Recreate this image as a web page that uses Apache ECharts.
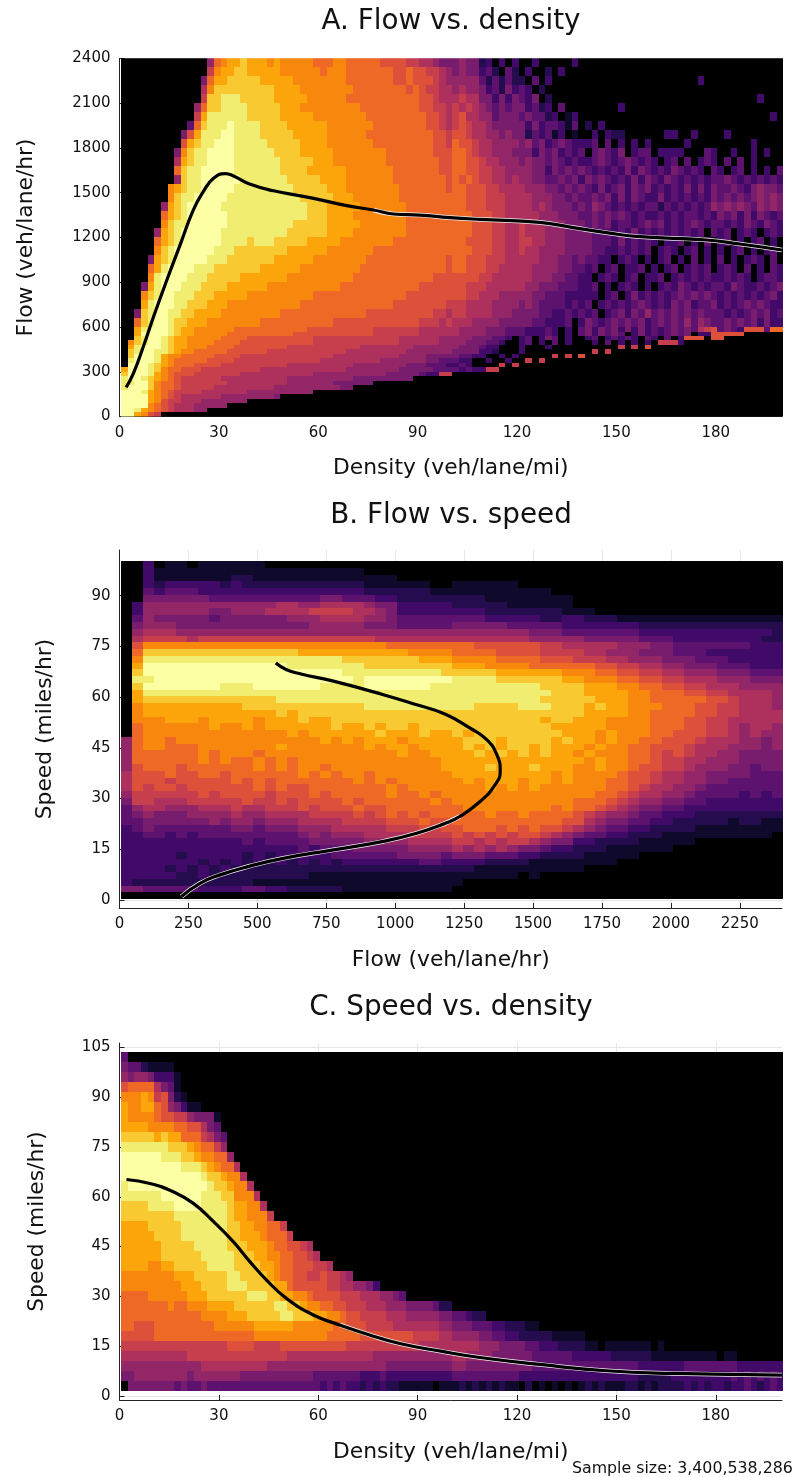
<!DOCTYPE html>
<html>
<head>
<meta charset="utf-8">
<script src="https://cdn.jsdelivr.net/npm/echarts@6/dist/echarts.min.js"></script>
<style>html,body{margin:0;padding:0;background:#fff}#c{width:796px;height:1477px}#c canvas{filter:blur(.45px)}</style>
</head>
<body>
<div id="c"></div>
<script>
const inferno = ['#000000','#0f0a2c','#250c4f','#420a68','#5c126e','#781c6d','#932667','#ae305c','#c73e4c','#dd513a','#ed6925','#f8870e','#fca50a','#f9c932','#f1ed71','#fcffa4'];

const densityTicks = [0,30,60,90,120,150,180];
const flowTicksA = [0,300,600,900,1200,1500,1800,2100,2400];
const flowTicksB = [0,250,500,750,1000,1250,1500,1750,2000,2250];
const speedTicksB = [0,15,30,45,60,75,90];
const speedTicksC = [0,15,30,45,60,75,90,105];

// A upper: rows top (flow 2400) down to flow 600, 60 flow per row, 2 density per column
const flowDensityRows = [
"0000000000 0006abccdc ccbcbbbbba aabbaaaaa9 9998877655 5655230303 0030000030 0000000000 0000000000 0000000000",
"0000000000 0008bccddc ccccbbbbbb abbbaaaaaa a99a998876 5655342042 0300203000 0000000000 0000000000 0000000000",
"0000000000 005accdddd dcccccbbbb bbbbaaaaaa a99a999876 6666424242 2040300000 0000000000 0000000300 0000000000",
"0000000000 007bdddddd dddccccbbb bbbbbaaaaa aaa9a98877 6766534253 4302000000 0000000000 0000000000 0000000000",
"0000000000 008ddeeedd dddcccccbb bbbbaaaaaa aaaaa99877 7877553535 4350200000 0000000000 0000000000 0000003000",
"0000000000 06addeeeed ddddcccbbb bbbbbbaaaa aaaaa99887 8787654545 5342304000 0000030000 0000000000 0000000000",
"0000000000 08ceeeeeed ddddcccccb bbbbbbbaaa aaaaaa9987 8977664555 4544230130 0000000000 0000000000 0000000030",
"0000000000 4adeeefeee eddddccccc cbbbbbbbaa aaaaaa9987 8987765555 5353443140 2030000000 0000000000 0000000000",
"0000000005 9ceeeffeee edddddcccc cbbbbbbaaa aaaaaaa998 9987766565 5243413010 0303220000 0033003000 0300000000",
"0000000009 cdeefffeee eedddddccc cbbbbbbbaa aaaaaaa998 a998776666 5645345433 3404030303 0000030000 0000030000",
"000000005b deeffffeee eeeddddccc ccbbbbbbbb aaaaaaa999 aa98776665 5535453434 0454350344 0333300043 0030030300",
"000000007c deeffffeee eeeedddddc ccbbbbbbbb aaaaaaaa99 aa99877666 5655454343 3454345434 3034040343 0404030000",
"00000000ad eefffffeee eeeeddddcc ccccbbbbbb baaaaaaa99 aa99887766 6655354545 4343435354 3435434304 3034030304",
"000000006d eeffffffee eeeeeddddd ccccbbbbbb baaaaaaaa9 a9a9887767 6655445453 5454343535 4354343434 4543434343",
"0000000bcd eefffffeee eeeeeedddd dcccbbbbbb bbaaaaaaa9 aa99988777 7666554545 4353453545 3434353535 4454356554",
"0000000bde efffffeeee eeeeeeeddd ddcccbbbbb bbaaaaaaaa aa99988877 7766655454 4545353543 3534343435 4545456565",
"0000006cde fffffeeeee eeeeeeeedd dcccccbbbb bbbaaaaaaa aa99988877 7767655545 4654343434 4243434346 5656546565",
"000000acde ffffffeeee eeeeeeeedd dccccbbbbb bbbaaaaaaa aaa9998877 7776665554 4545454343 3434344343 5453535434",
"000000bdee ffffffeeee eeeeeedddd dcccccbbbb bbbaaaaaaa aaa9998877 8777666555 4545344345 4534345434 4343543543",
"000006cdef fffffeeeee eeeeeddddd dccccbbbbb bbbaaaaaaa aaa9998877 8777666555 5444343534 3434343404 3403430343",
"00000acdef fffffeeeed eeedddddcc cccbbbbbbb baaaaaaaaa aa99998877 8877666555 5444353434 3033403040 3403034030",
"00000bdeff ffffeeeddd dddddccccc cbbbbbbbaa aaaaaaaaaa aaa9998877 8776666555 5443343434 0343034030 3034030340",
"00005cdeff fffeeedddd dddccccccb bbbbbbbaaa aaaaaaaaa9 aa99988877 7776665545 4433034303 0340304030 4030343040",
"0000acefff feeedddddd dccccccbbb bbbbbbaaaa aaaaaaaaa9 aa99988777 7766665544 3403403340 3034034340 3430403043",
"0000beffff eeedddddcc cccccbbbbb bbbbbaaaaa aaaaaaa999 9999887777 7766655443 3034303403 3403434343 3434303443",
"0005cefffe eeddddcccc ccbbbbbbbb bbbaaaaaaa aaaaa99999 9988877777 7665554443 3403034303 0343543434 4354334345",
"000bdeffee edddcccccb bbbbbbbbba aaaaaaaaaa aaa9999999 9988777666 6655444333 3303403534 3434545454 3434343453",
"000cefffee dddcccbbbb bbbbbbbaaa aaaaaaaaaa a999999998 8877776666 5654444343 4034343454 3435453445 3434545433",
"005deffeed dccccbbbbb bbbbaaaaaa aaaaaaa999 9999999887 8877776665 5554433434 3403453546 4545454544 4343454534",
"00adeffedd cccbbbbbbb baaaaaaaaa aa99999999 9999988878 7776666555 5544333403 5434545453 4545464654 4545453533"
];

// A lower: rows from flow 600 down to flow 0, 30 flow per row
const flowDensityLowRows = [
"00cefffedc cbbbbbbaaa aaaaaaaa99 9999999988 8888877777 7666655544 4333430304 5354535353 4345454789 45439994aa",
"00cffffedc cbbbbbaaaa aaaaaa9999 9999999988 8888877777 7666655544 4333430304 5354540353 4345450339 9999000000",
"00deffedcc bbbbbaaaa9 9999999998 8888888888 8877777766 6665554430 3403540300 3403434304 3040399909 9000000000",
"0bdeffedcc bbbbaaaa99 9999999998 8888888888 8877777766 6655544300 3403040300 0304030303 0888300000 0000000000",
"0cefffedcc bbbaaaa999 9999988888 8888887777 7777666666 6555433000 3000300000 0000080809",
"0deffeedcb baaaaa9999 9988888888 8888777777 7776666666 5555332000 3000000000 0808000000",
"0dfffecbba aaaa999988 8888888888 8877777777 7766665555 5443300303 0000080809",
"0efffecbaa aaa9999888 8888888888 7777777776 6666665544 4330030030 0808000000",
"0fffedcbaa a999988888 8888877777 7777766666 6665554443 3430000808",
"cfffedbaa9 9988888888 8777777777 7777666666 6655555444 4343388000",
"dfffecba99 9888888877 7777777776 6666666666 5555543388",
"effedcba98 8888877777 7777766666 6666655555 5555000000",
"eeffdbaa98 8888887777 7777766666 6655555500",
"efffdbaa98 8888777777 7776666666 6665500000",
"fffecba988 8877777776 6666666660",
"ffffcba987 7777766666 6665000000",
"ffffcb9887 7766666660",
"ffffba9877 766666",
"ffecba9877 766",
"ffcb98"
];

// B: rows top (speed 100) to bottom (speed 0), 2 mph per row, 40 flow per column
const flowSpeedRows = [
"0030110111 1110000000",
"0031111111 1111111111 1100000000",
"0031111111 2211111111 1111100000",
"0032333332 3222222222 2211111100 1111110000",
"0043444333 3333333333 3322222211 1111111110",
"0055555544 4444444455 4443322222 2221111111 1000000000",
"0366666666 6666776677 7765533333 2222211111 1000000000",
"0366666655 6667777888 8776533333 3332222222 1110000000",
"0465555545 5555566677 7766544444 4443333322 3322211111 1111111111",
"0566655555 5555555666 6655544444 5555544444 3333333222 2222222222",
"0677766666 6666666666 6666666666 6666666555 4444444333 3333333332",
"0788887888 8888888888 8887777777 7777777666 6655555444 3333333322",
"09bbbbbbbb bbbbbbbbbb bbbbaaaaaa aa99999988 7777766655 4444444333",
"0adddddddd ddddddcccc ccccccbbbb aaaa999988 8877666555 4443333333",
"0beeeeeeee eeeeeeeeee dddddddccc bbbbaaaa99 9888776665 5544433333",
"0cffffffff fffffeeeee eedddddddd cccbbbbaaa aaa9988776 6555444333",
"0dffffffff ffffffffff eeeeeeeeed ddddcccccc bbbaa99887 7666555444",
"0eefffffff ffffffffff feffffffff eeeedddddd ccbbbaa998 8777666555",
"0dfffffffe eeffffffee eeffffffee eeeeeeeedd ddcccbbaa9 9887776666",
"0ceeeeeeee eeeeeeeeee eeeeeeeeee eeeeeeeeed ddccccbbaa a998877776",
"0cdddddddd ddddeeeeee eeeeeeeeee eeeeeeeedd dddcccbbaa aaa9987776",
"0bcccccccc cddddddddd ddeeeeeeee eeddddeeed ddcdccbbba aa99887776",
"0bcccccccc ccccdcdddd dddddddddd dddddddddd ddccccbbaa aa99887777",
"0bbbcccbcc ccbcccdccd dddddddddd ddddddddcd dcccbbbbaa a998877777",
"0abbbbbbcb bcbccccccd ccdcddcddd dddddddddc ccccbbbbaa a998876776",
"0abbbbbbbb bbbbbcbccc cccdcccdcc dcdddddddd cccbcbbbaa 9998876766",
"6abbabbbbb bbbbbbbbcb cbcccbcccc cdddcddddc dccbcbbaa9 9987776656",
"6abbaaabbb bbbbcbbbbb bbcbccbccc cdcdcddcdc ccbcbbaa99 9877766656",
"6aaaaaabab bbabbbbbbb bbbbbcbbcc ccdcdcdcdc cbcbbbaa98 9877665555",
"6aaaaaabab aabababbbb bbbbbbbbbc cccccccccc ccbcbbaa98 8776665555",
"69aaa9aaaa aabababbab bbbbbbbbbc cccdcccdcc cbbcbba998 8766655455",
"7999a99aa9 aaaaaababa bbabbbbbbb cccccccccb cbbbba9987 7665555444",
"7999899999 a9a9aaaaaa abababbbbb bcbcccbccb cbbbaa9987 7665544444",
"7989989999 99a9a99aaa aaaababbbb bbbcbcbcbb bbbbaa9877 6654444444",
"6888888989 9998999a9a aaaabaabab bbbbbbbbbb bbbaa98776 6544443434",
"5887778888 8988989999 a9aaaaaaba bbbbbbbbbb baaa987665 5443333333",
"4677666777 8778889899 9a99aaaaaa abbbbbbbba baa9876554 4333333333",
"4565556666 7667777888 8989a9a9aa aaabaabaaa a987665443 3322222222",
"4455555565 6656667777 8888999a99 aaaaaaaaaa 9976554433 2222212211",
"3454444444 5545556667 7777888989 9aaa9a9a99 8765443322 2211111111",
"3344343444 4444445656 6677778888 9898989987 6544332221 1111111110",
"3333333333 3434444555 5566667777 8878788765 5332222111 1100000000",
"3333333333 3333334344 4555556666 7676765543 3222111111 0000000000",
"3333323333 3232333334 4444455554 5554443322 2211111000 0000000000",
"3333333232 3232323232 3333333443 3332222111 1111100000",
"3333232323 2222222222 2222222222 2211111111 1100000000",
"3333322322 2222222111 1111111111 1111110100",
"3222222222 2211111111 1111111111 1000000000",
"5544444333 3443322222 1111111111",
"0"
];

// C: rows top (speed ~103.6) to bottom (speed ~1.6), 3 mph per row, 2 density per column
const speedDensityRows = [
"4",
"54421111",
"656653331",
"9aaaa7541",
"bbbcb89521",
"cbbcca9653 11",
"cbbbba9988 65551",
"ccccbbbbaa 99754",
"dddddcdcca aa8754",
"eeeeeeeddd cbaa86",
"ffffffeeed dcbbaa6",
"fffffffffe eedcbaa7",
"ffffffffff ffeddcbb7",
"efffffffff fffeddcbb7",
"eeeeeeffff ffeeeddbbb 7",
"ddddeeeeff ffeeeedccb b7",
"ddddddddee eeeeeedccb bb8",
"ccccddddde eeeeeeddcc bbaa8",
"cccccdddde eeeeeeddcc cbaaa8",
"ccccccdddd deeeeedddc ccbaa9987",
"ccccccdddd ddeeeeeddd ccbbaa9987",
"ccccbbccdd dddeeeeddd dccbaa9998 87",
"bbbbbbbbcc cdddddeedd ddcbaa9988 98876",
"bbbbbbbbbc ccddddeeed dddcca9999 988776653",
"aaaabbbbbb cccdddddde eeddccbba9 9998887776 654",
"aaaaaaabaa bbbccccddd dddeeddcbb aa99888777 6665555422",
"aaaaaaaaaa aabbbbcccd ddddeedddc cbba998888 7776666655 44322",
"aa999aaaaa aaaabbbbbb ccccccbbbb bbaa999888 8777777766 5554443322 2110000000",
"99999aaaaa aaaaaaaaaa bbbbbbbbbb baaaaa9999 9999888877 6666554433 2222211111",
"8888888888 8888889999 8888999999 9999888888 8888877777 7777666555 5443332222 1101111111 0100000000",
"7777777777 8888888888 8888877777 7777777766 6666666666 7766665555 5544444433 3333222222 1111111111 0110000000",
"6666666666 6677777777 7766666666 6666666666 5555555555 6655555555 5544444444 4444444433 3333344444 4443333333",
"5566666666 5666666655 5555555554 4444443334 3333333333 4444444444 3333333333 3333333322 2223333333 3343434343",
"0555555545 4454444444 4444444444 3434332323 2211111011 1212121211 0201010101 2121112212 1222232323 3233432343"
];

// Fitted curves: [x, y]
const curveA = [[2,196],[4.2,290],[7.2,469],[10.3,670],[14.3,915],[18.3,1150],[22.3,1384],[25.3,1507],[28.4,1596],[31.9,1627],[34.4,1612],[39.5,1556],[46.5,1513],[58.6,1462],[68.6,1413],[76.7,1384],[82.7,1357],[90.7,1350],[99.8,1333],[108.8,1321],[126.9,1301],[137,1266],[147,1232],[157.1,1205],[177.2,1183],[187.3,1156],[200,1116]];
const curveB = [[225,1],[292,4.9],[365,7.4],[473,10],[594,12.3],[776,14.8],[957,17.3],[1078,19.7],[1180,22.6],[1235,24.7],[1308,29.1],[1362,34],[1381,38],[1369,42.9],[1332,47.4],[1272,50.8],[1180,55],[1078,57.7],[957,60.7],[776,64.7],[655,66.9],[606,68.1],[567,70.1]];
const curveC = [[2.1,65.2],[9.2,64],[16.2,61.5],[22.3,58],[28.4,52.5],[34.4,46.4],[39.4,40.4],[44.4,34.9],[50.4,29.4],[58.5,24.4],[66.5,21.4],[74.6,18.7],[84.6,15.8],[97,13.5],[108.8,11.6],[126.9,9.5],[147,7.6],[167,6.8],[200,6.3]];

const labelFont = 'DejaVu Sans';

function toCells(rows, x0, dx, yTop, dy, cols) {
  const out = [];
  rows.forEach(function (s, r) {
    const t = s.replace(/ /g, '').padEnd(cols, '0');
    for (let c = 0; c < cols; c++) {
      out.push([x0 + dx * c, yTop - dy * (r + 1), parseInt(t[c], 16)]);
    }
  });
  return out;
}

function heat(idx, data, dx, dy) {
  return {
    type: 'custom', xAxisIndex: idx, yAxisIndex: idx, data: data, clip: true, silent: true,
    animation: false, progressive: 0, z: 2, encode: {x: 0, y: 1},
    renderItem: function (params, api) {
      const p = api.coord([api.value(0), api.value(1) + dy]);
      const s = api.size([dx, dy]);
      const x0 = Math.round(p[0]), y0 = Math.round(p[1]);
      const x1 = Math.round(p[0] + s[0]), y1 = Math.round(p[1] + s[1]);
      return {type: 'rect', shape: {x: x0, y: y0, width: x1 - x0, height: y1 - y0},
        style: {fill: api.visual('color')}};
    }
  };
}

function line(idx, data, color, width, z) {
  return {type: 'line', xAxisIndex: idx, yAxisIndex: idx, data: data, symbol: 'none', smooth: 0.5,
    silent: true, animation: false, z: z, lineStyle: {color: color, width: width}, clip: true};
}

function axis(gridIndex, min, max, ticks, name, nameGap, pos) {
  return {
    type: 'value', gridIndex: gridIndex, min: min, max: max, position: pos,
    name: name, nameLocation: 'middle', nameGap: nameGap,
    nameTextStyle: {fontFamily: labelFont, fontSize: 21.8, color: '#111'},
    axisLine: {show: true, onZero: false, lineStyle: {color: '#222', width: 1}},
    axisTick: {show: true, inside: true, length: 5, customValues: ticks, lineStyle: {color: '#222', width: 1}},
    axisLabel: {customValues: ticks, margin: 9, fontFamily: labelFont, fontSize: 15, color: '#111', hideOverlap: false,
      showMinLabel: true, showMaxLabel: true, formatter: function (v) { return String(v); }},
    splitLine: {show: true, customValues: ticks, lineStyle: {color: '#e6e6e6', width: 1}}
  };
}

const titleStyle = {fontFamily: labelFont, fontSize: 27.8, fontWeight: 'normal', color: '#111'};
const chart = echarts.init(document.getElementById('c'), null, {renderer: 'canvas'});
chart.setOption({
  backgroundColor: '#fff',
  animation: false,
  title: [
    {text: 'A. Flow vs. density', left: 446, top: 3, textAlign: 'center', textStyle: titleStyle},
    {text: 'B. Flow vs. speed', left: 446, top: 497, textAlign: 'center', textStyle: titleStyle},
    {text: 'C. Speed vs. density', left: 446, top: 989, textAlign: 'center', textStyle: titleStyle},
    {text: 'Sample size: 3,400,538,286', left: 567, top: 1456, textStyle: {fontFamily: labelFont, fontSize: 15.8, fontWeight: 'normal', color: '#111'}}
  ],
  grid: [
    {left: 119.5, top: 58.3, width: 662.5, height: 358.3, outerBoundsMode: 'none'},
    {left: 119.5, top: 550, width: 662.5, height: 358, outerBoundsMode: 'none'},
    {left: 119.5, top: 1043, width: 662.5, height: 357, outerBoundsMode: 'none'}
  ],
  xAxis: [
    axis(0, 0, 200, densityTicks, 'Density (veh/lane/mi)', 41, 'bottom'),
    axis(1, 0, 2403, flowTicksB, 'Flow (veh/lane/hr)', 41, 'bottom'),
    axis(2, 0, 200, densityTicks, 'Density (veh/lane/mi)', 41, 'bottom')
  ],
  yAxis: [
    axis(0, 0, 2400, flowTicksA, 'Flow (veh/lane/hr)', 82, 'left'),
    axis(1, -2.4, 103.5, speedTicksB, 'Speed (miles/hr)', 63, 'left'),
    axis(2, -1.2, 106.3, speedTicksC, 'Speed (miles/hr)', 71, 'left')
  ],
  visualMap: {show: false, type: 'continuous', min: 0, max: 15, dimension: 2, seriesIndex: [0, 1, 2, 3], inRange: {color: inferno}},
  series: [
    heat(0, toCells(flowDensityRows, 0.5, 2, 2400, 60, 100), 2, 60),
    heat(0, toCells(flowDensityLowRows, 0.5, 2, 600, 30, 100), 2, 30),
    heat(1, toCells(flowSpeedRows, 6, 40, 100.2, 2, 60), 40, 2),
    heat(2, toCells(speedDensityRows, 0.5, 2, 103.6, 3, 100), 2, 3),
    line(0, curveA.slice(15), '#f4f4f4', 4.6, 5),
    line(0, curveA, '#000', 3.2, 6),
    line(1, curveB.slice(0, 10), '#f4f4f4', 4.6, 5),
    line(1, curveB, '#000', 3.2, 6),
    line(2, curveC.slice(10), '#f4f4f4', 4.6, 5),
    line(2, curveC, '#000', 3.2, 6)
  ]
});
</script>
</body>
</html>
